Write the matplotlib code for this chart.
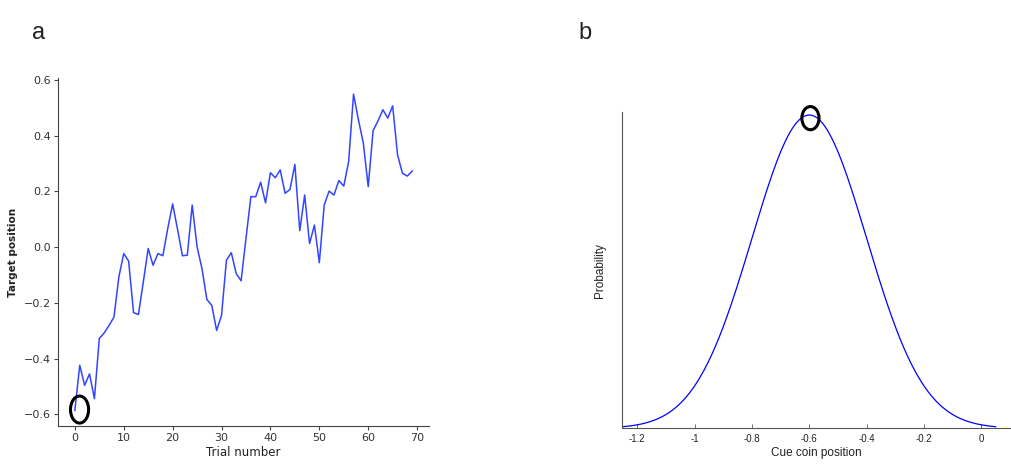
import numpy as np
import matplotlib
matplotlib.use('Agg')
import matplotlib.pyplot as plt
from matplotlib.patches import Ellipse

# Panel a: target position per trial
trials = np.arange(70)
target_pos = [-0.586, -0.424, -0.496, -0.455, -0.544, -0.328, -0.308, -0.281, -0.251, -0.107,
              -0.023, -0.050, -0.235, -0.242, -0.125, -0.005, -0.065, -0.023, -0.031, 0.067,
              0.155, 0.064, -0.031, -0.029, 0.151, 0.001, -0.077, -0.188, -0.209, -0.299,
              -0.245, -0.047, -0.020, -0.095, -0.121, 0.031, 0.181, 0.181, 0.233, 0.159,
              0.267, 0.249, 0.277, 0.193, 0.207, 0.297, 0.059, 0.187, 0.013, 0.079,
              -0.056, 0.151, 0.201, 0.187, 0.239, 0.219, 0.307, 0.549, 0.457, 0.373,
              0.217, 0.418, 0.453, 0.493, 0.463, 0.507, 0.331, 0.265, 0.255, 0.273]
marked_trial = (0.96, -0.583)

# Panel b: cue coin position distribution
cue_mean = -0.6
cue_sd = 0.2
cue_x = np.linspace(-1.25, 0.05, 400)
cue_prob = np.exp(-0.5 * ((cue_x - cue_mean) / cue_sd) ** 2)
xticks_b = [-1.2, -1.0, -0.8, -0.6, -0.4, -0.2, 0.0]
xticklabels_b = ['-1.2', '-1', '-0.8', '-0.6', '-0.4', '-0.2', '0']

fig = plt.figure(figsize=(10.12, 4.67), dpi=100)

# ---- panel a
ax1 = fig.add_axes([0.0573, 0.0878, 0.3667, 0.7452])
ax1.plot(trials, target_pos, color='#3344ff', linewidth=1.1)
ax1.add_patch(Ellipse(marked_trial, width=3.7, height=0.097, fill=False,
                      edgecolor='black', linewidth=2.2, zorder=5))
ax1.set_xlim(-3.45, 72.45)
ax1.set_ylim(-0.642, 0.607)
ax1.set_xticks(np.arange(0, 71, 10))
ax1.set_yticks(np.arange(-0.6, 0.61, 0.2))
ax1.yaxis.set_major_formatter(matplotlib.ticker.FuncFormatter(lambda v, p: f'{v:.1f}'.replace('-', '\u2212')))
for s in ['top', 'right']:
    ax1.spines[s].set_visible(False)
for s in ['left', 'bottom']:
    ax1.spines[s].set_color('#444444')
ax1.tick_params(axis='both', colors='#444444', labelsize=8, length=3, width=0.8,
                labelcolor='#333333', pad=2)
ax1.set_xlabel('Trial number', fontsize=8.5, color='#222222', labelpad=2)
ax1.set_ylabel('Target position', fontsize=7.5, fontweight='bold', color='#222222', labelpad=4)

# ---- panel b
ax2 = fig.add_axes([0.615, 0.0829, 0.383, 0.6766])
ax2.plot(cue_x, cue_prob, color='#0000ff', linewidth=0.9)
ax2.set_xlim(-1.252, 0.1)
ax2.set_ylim(0, 1.0086)
ax2.add_patch(Ellipse((-0.596, 0.99), width=0.06, height=0.074, fill=False,
                      edgecolor='black', linewidth=2.2, zorder=5, clip_on=False))
ax2.set_xticks(xticks_b)
ax2.set_xticklabels(xticklabels_b, fontfamily='Liberation Sans')
ax2.set_yticks([])
for s in ['top', 'right']:
    ax2.spines[s].set_visible(False)
for s in ['left', 'bottom']:
    ax2.spines[s].set_color('#555555')
    ax2.spines[s].set_linewidth(0.8)
ax2.tick_params(axis='x', direction='in', length=3, width=0.6, colors='#555555',
                labelsize=7, labelcolor='#222222', pad=4)
ax2.set_xlabel('Cue coin position', fontsize=8.5, fontfamily='Liberation Sans', color='#222222', labelpad=2)
ax2.set_ylabel('Probability', fontsize=8.5, fontfamily='Liberation Sans', color='#222222', labelpad=12)

fig.text(0.032, 0.93, 'a', fontsize=17, fontfamily='Liberation Sans', color='#222222', va='center')
fig.text(0.572, 0.93, 'b', fontsize=17, fontfamily='Liberation Sans', color='#222222', va='center')

fig.savefig('out.png', dpi=100)
